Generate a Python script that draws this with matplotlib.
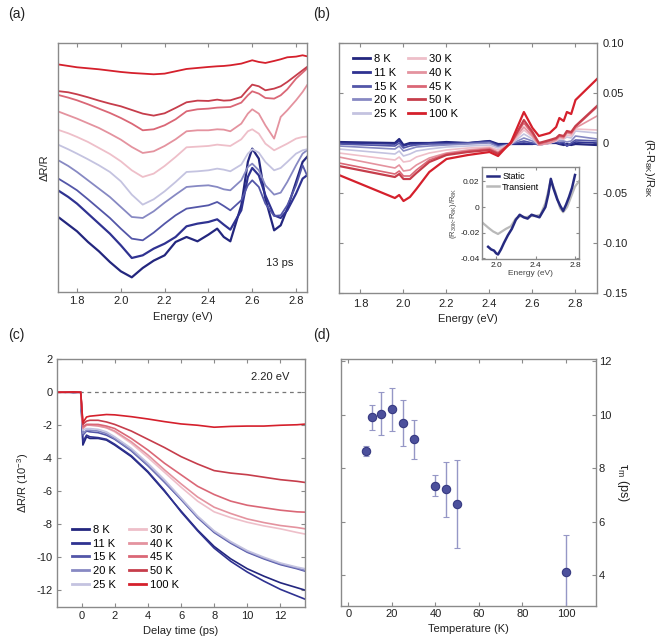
import matplotlib
matplotlib.use('Agg')
import matplotlib.pyplot as plt

plt.rcParams['font.family'] = ['Liberation Sans', 'DejaVu Sans']
plt.rcParams['mathtext.fontset'] = 'custom'
plt.rcParams['mathtext.rm'] = 'Liberation Sans'
plt.rcParams['mathtext.it'] = 'Liberation Sans:italic'

temps = ['8 K', '11 K', '15 K', '20 K', '25 K', '30 K', '40 K', '45 K', '50 K', '100 K']
colors = ['#23267e', '#2f3291', '#5356a8', '#8789c3', '#c4c3e0',
          '#eebfc9', '#e4939f', '#da6776', '#c63d4b', '#d5202c']

# ---- (a) transient spectra at 13 ps (stacked, arbitrary units)
E_a = [1.72, 1.76, 1.80, 1.85, 1.90, 1.95, 2.00, 2.05, 2.10, 2.15, 2.20, 2.25, 2.30, 2.35, 2.40,
       2.44, 2.47, 2.50, 2.55, 2.58, 2.60, 2.63, 2.66, 2.70, 2.73, 2.76, 2.80, 2.83, 2.85]
spec_8K = [-528, -548, -568, -600, -628, -660, -688, -706, -678, -656, -640, -600, -585, -598, -578,
           -560, -585, -598, -490, -360, -320, -350, -470, -565, -550, -500, -420, -360, -345]
spec_11K = [-448, -465, -485, -515, -545, -575, -610, -648, -640, -620, -605, -585, -553, -545, -540,
            -532, -548, -563, -505, -405, -378, -400, -460, -520, -528, -505, -455, -410, -400]
spec_15K = [-412, -428, -445, -472, -500, -528, -560, -590, -595, -572, -545, -520, -500, -495, -490,
            -480, -492, -505, -475, -430, -415, -435, -485, -522, -520, -490, -430, -370, -400]
spec_20K = [-357, -372, -390, -415, -440, -465, -495, -525, -528, -508, -482, -458, -435, -432, -430,
            -435, -442, -445, -415, -375, -365, -385, -430, -458, -452, -420, -370, -335, -325]
spec_25K = [-310, -322, -335, -352, -370, -390, -418, -458, -488, -472, -448, -420, -390, -388, -385,
            -380, -383, -388, -368, -335, -322, -332, -360, -385, -378, -360, -335, -325, -322]
spec_30K = [-265, -274, -285, -300, -318, -336, -358, -385, -405, -395, -372, -345, -316, -314, -312,
            -308, -310, -312, -292, -268, -262, -275, -305, -325, -315, -305, -290, -285, -284]
spec_40K = [-210, -220, -230, -244, -258, -275, -293, -315, -333, -328, -312, -292, -268, -265, -265,
            -262, -263, -268, -245, -215, -202, -215, -250, -290, -225, -205, -175, -150, -130]
spec_45K = [-160, -167, -175, -187, -200, -213, -228, -245, -265, -262, -250, -232, -208, -202, -200,
            -197, -196, -195, -182, -160, -148, -155, -168, -170, -160, -142, -110, -92, -80]
spec_50K = [-148, -151, -157, -166, -176, -185, -193, -204, -215, -221, -214, -198, -181, -176, -177,
            -173, -176, -175, -165, -142, -128, -133, -145, -140, -133, -120, -100, -85, -75]
spec_100K = [-68, -72, -76, -79, -82, -86, -90, -93, -95, -97, -95, -88, -81, -78, -75,
             -73, -72, -70, -65, -59, -55, -60, -63, -57, -52, -46, -44, -40, -43]
spectra_a = [spec_8K, spec_11K, spec_15K, spec_20K, spec_25K,
             spec_30K, spec_40K, spec_45K, spec_50K, spec_100K]

# ---- (b) static reflectance change (R-R8K)/R8K
E_b = [1.70, 1.96, 1.98, 2.00, 2.03, 2.06, 2.12, 2.20, 2.30, 2.40, 2.44, 2.50, 2.56, 2.60, 2.63,
       2.68, 2.71, 2.725, 2.745, 2.76, 2.78, 2.80, 2.90]
st_8K = [0.001, 0.000, 0.004, -0.002, 0.000, 0.000, 0.000, 0.001, 0.000, 0.002, -0.001, -0.001,
         -0.001, -0.001, 0.000, 0.000, 0.000, -0.001, -0.002, -0.001, -0.002, -0.001, -0.002]
st_11K = [0.000, -0.001, 0.002, -0.003, -0.001, -0.001, 0.000, 0.000, 0.000, 0.002, -0.002, -0.001,
          0.000, -0.001, -0.001, 0.000, 0.001, -0.001, 0.000, -0.003, -0.001, 0.001, 0.000]
st_15K = [-0.001, -0.003, 0.000, -0.005, -0.003, -0.002, -0.001, -0.001, 0.000, 0.001, -0.003, -0.001,
          0.002, 0.000, -0.002, 0.000, 0.001, 0.000, 0.001, -0.003, 0.000, 0.003, 0.002]
st_20K = [-0.003, -0.006, -0.003, -0.008, -0.006, -0.004, -0.003, -0.002, -0.001, 0.000, -0.004, -0.001,
          0.005, 0.002, -0.002, 0.000, 0.002, 0.002, 0.002, 0.001, 0.002, 0.007, 0.004]
st_25K = [-0.006, -0.011, -0.008, -0.013, -0.011, -0.008, -0.006, -0.004, -0.003, -0.002, -0.005, -0.001,
          0.009, 0.004, -0.002, 0.000, 0.002, 0.004, 0.004, 0.006, 0.005, 0.012, 0.010]
st_30K = [-0.010, -0.017, -0.014, -0.019, -0.018, -0.014, -0.010, -0.007, -0.005, -0.004, -0.007, -0.001,
          0.013, 0.006, -0.002, 0.000, 0.002, 0.005, 0.004, 0.008, 0.007, 0.014, 0.013]
st_40K = [-0.014, -0.025, -0.022, -0.028, -0.027, -0.022, -0.015, -0.010, -0.007, -0.005, -0.009, 0.000,
          0.016, 0.007, -0.002, 0.000, 0.003, 0.006, 0.005, 0.010, 0.009, 0.015, 0.027]
st_45K = [-0.020, -0.031, -0.028, -0.033, -0.033, -0.027, -0.017, -0.011, -0.008, -0.006, -0.010, 0.000,
          0.020, 0.009, -0.001, 0.002, 0.004, 0.007, 0.006, 0.011, 0.010, 0.016, 0.036]
st_50K = [-0.023, -0.034, -0.031, -0.036, -0.036, -0.030, -0.019, -0.012, -0.009, -0.007, -0.011, 0.000,
          0.023, 0.011, 0.000, 0.003, 0.005, 0.008, 0.007, 0.012, 0.011, 0.017, 0.037]
st_100K = [-0.032, -0.055, -0.052, -0.058, -0.054, -0.046, -0.029, -0.016, -0.012, -0.009, -0.013, 0.001,
           0.031, 0.015, 0.007, 0.010, 0.016, 0.025, 0.022, 0.031, 0.029, 0.043, 0.064]
static_b = [st_8K, st_11K, st_15K, st_20K, st_25K, st_30K, st_40K, st_45K, st_50K, st_100K]

# inset: 30 K vs 8 K
E_static = [1.92, 1.95, 1.98, 2.00, 2.02, 2.05, 2.08, 2.12, 2.16, 2.20, 2.24, 2.28, 2.32, 2.36,
            2.40, 2.44, 2.47, 2.50, 2.53, 2.555, 2.58, 2.62, 2.65, 2.68, 2.71, 2.74, 2.77, 2.80]
v_static = [-0.031, -0.033, -0.034, -0.036, -0.037, -0.033, -0.028, -0.022, -0.017, -0.010, -0.006,
            -0.008, -0.009, -0.006, -0.007, -0.008, -0.004, 0.000, 0.010, 0.022, 0.015, 0.006, 0.001,
            -0.003, 0.002, 0.008, 0.015, 0.025]
E_trans = [1.86, 1.92, 1.97, 2.02, 2.06, 2.10, 2.15, 2.20, 2.25, 2.30, 2.35, 2.40, 2.45, 2.50,
           2.555, 2.60, 2.65, 2.68, 2.72, 2.76, 2.80, 2.84]
v_trans = [-0.012, -0.016, -0.019, -0.021, -0.019, -0.017, -0.015, -0.009, -0.007, -0.008, -0.007,
           -0.007, -0.006, 0.003, 0.021, 0.012, -0.001, -0.004, 0.000, 0.008, 0.016, 0.020]

# ---- (c) kinetics at 2.20 eV (1e-3)
t_c = [-1.5, -1.0, -0.5, -0.05, 0.08, 0.3, 0.5, 1.0, 1.5, 2, 3, 4, 5, 6, 7, 8, 9, 10, 11, 12, 13, 13.5]
kin_8K = [0.0, 0.02, -0.02, 0.0, -3.2, -2.7, -2.8, -2.8, -2.9, -3.2, -3.9, -4.85, -6.0, -7.2, -8.35,
          -9.35, -10.1, -10.7, -11.15, -11.55, -11.85, -12.0]
kin_11K = [0.02, 0.0, 0.0, 0.02, -3.0, -2.6, -2.7, -2.75, -2.85, -3.15, -3.85, -4.8, -5.95, -7.25, -8.4,
           -9.45, -10.25, -10.9, -11.45, -11.95, -12.35, -12.55]
kin_15K = [0.0, 0.0, 0.02, 0.0, -2.6, -2.35, -2.4, -2.45, -2.6, -2.85, -3.55, -4.45, -5.45, -6.5, -7.6,
           -8.5, -9.15, -9.7, -10.1, -10.45, -10.7, -10.85]
kin_20K = [0.0, 0.02, 0.0, 0.0, -2.5, -2.3, -2.3, -2.35, -2.5, -2.8, -3.5, -4.4, -5.4, -6.45, -7.55,
           -8.45, -9.1, -9.65, -10.05, -10.4, -10.65, -10.8]
kin_25K = [0.02, 0.0, 0.0, 0.0, -2.3, -2.2, -2.2, -2.25, -2.4, -2.7, -3.4, -4.3, -5.3, -6.4, -7.5,
           -8.4, -9.05, -9.6, -10.0, -10.35, -10.6, -10.7]
kin_30K = [0.0, 0.0, 0.0, 0.02, -2.1, -1.95, -1.95, -2.0, -2.15, -2.4, -3.1, -3.95, -4.85, -5.75, -6.6,
           -7.25, -7.6, -7.88, -8.1, -8.28, -8.5, -8.6]
kin_40K = [0.0, 0.0, 0.02, 0.0, -2.2, -2.0, -2.0, -2.05, -2.15, -2.35, -3.0, -3.8, -4.7, -5.55, -6.35,
           -6.97, -7.35, -7.68, -7.9, -8.08, -8.2, -8.28]
kin_45K = [0.0, 0.02, 0.0, 0.0, -2.1, -1.95, -1.95, -1.95, -2.05, -2.2, -2.8, -3.5, -4.3, -5.0, -5.7,
           -6.2, -6.6, -6.85, -7.0, -7.15, -7.25, -7.27]
kin_50K = [0.0, 0.0, 0.0, 0.0, -1.95, -1.75, -1.7, -1.7, -1.8, -1.95, -2.35, -2.85, -3.35, -3.9, -4.35,
           -4.75, -4.9, -5.0, -5.15, -5.3, -5.4, -5.47]
kin_100K = [0.0, 0.0, 0.02, 0.0, -1.85, -1.5, -1.45, -1.4, -1.35, -1.37, -1.48, -1.62, -1.78, -1.92, -2.0,
            -2.12, -2.07, -2.05, -2.05, -2.0, -1.97, -1.93]
kinetics_c = [kin_8K, kin_11K, kin_15K, kin_20K, kin_25K, kin_30K, kin_40K, kin_45K, kin_50K, kin_100K]

# ---- (d) tau_m vs temperature
T_d = [8, 11, 15, 20, 25, 30, 40, 45, 50, 100]
tau_d = [8.65, 9.9, 10.04, 10.21, 9.68, 9.09, 7.35, 7.21, 6.66, 4.11]
tau_err = [0.19, 0.46, 0.81, 0.81, 0.86, 0.73, 0.38, 1.03, 1.64, 1.4]

GRAY = '#8a8a8a'
TXT = '#222222'


def style(ax, size=8):
    for s in ax.spines.values():
        s.set_color(GRAY)
        s.set_linewidth(1.0)
    ax.tick_params(direction='in', length=3, width=0.8, color=GRAY, labelsize=size,
                   labelcolor=TXT, top=True, right=True, pad=3)


fig = plt.figure(figsize=(6.71, 6.42), dpi=100)

# (a)
ax = fig.add_axes([0.0864, 0.5452, 0.3711, 0.3879])
for y, c in zip(spectra_a, colors):
    lw = 1.6 if c in colors[:2] else 1.3
    ax.plot(E_a, y, color=c, lw=lw)
ax.set_xlim(1.713, 2.85)
ax.set_ylim(-750, -3)
ax.set_xticks([1.8, 2.0, 2.2, 2.4, 2.6, 2.8])
ax.set_xticklabels(['1.8', '2.0', '2.2', '2.4', '2.6', '2.8'])
ax.set_yticks([])
style(ax)
ax.set_xlabel('Energy (eV)', fontsize=8, color=TXT, labelpad=4)
ax.set_ylabel('ΔR/R', fontsize=8, color=TXT, labelpad=6)
ax.text(0.89, 0.105, '13 ps', transform=ax.transAxes, fontsize=8, color=TXT, ha='center')

# (b)
ax = fig.add_axes([0.5052, 0.5436, 0.3845, 0.3894])
for y, c, lab in zip(static_b, colors, temps):
    lw = 1.6 if lab in ('50 K', '100 K', '8 K') else 1.2
    ax.plot(E_b, y, color=c, lw=lw, label=lab)
ax.set_xlim(1.7, 2.9)
ax.set_ylim(-0.15, 0.10)
ax.set_xticks([1.8, 2.0, 2.2, 2.4, 2.6, 2.8])
ax.set_xticklabels(['1.8', '2.0', '2.2', '2.4', '2.6', '2.8'])
ax.set_yticks([0.10, 0.05, 0, -0.05, -0.10, -0.15])
ax.set_yticklabels(['0.10', '0.05', '0', '-0.05', '-0.10', '-0.15'])
style(ax)
ax.tick_params(labelleft=False, labelright=True, pad=4)
ax.set_xlabel('Energy (eV)', fontsize=8, color=TXT, labelpad=4)
ax.yaxis.set_label_position('right')
ax.set_ylabel(r'(R-R$_{\mathrm{8K}}$)/R$_{\mathrm{8K}}$', fontsize=8, color=TXT,
              rotation=270, labelpad=20)
leg = ax.legend(ncol=2, loc='upper left', bbox_to_anchor=(0.055, 0.955), frameon=False,
                fontsize=8, handlelength=1.55, handletextpad=0.35, columnspacing=1.0,
                labelspacing=0.33, borderpad=0, borderaxespad=0)
for h in leg.get_lines():
    h.set_linewidth(2.0)

# inset
axi = fig.add_axes([0.7188, 0.5966, 0.1446, 0.1428])
axi.plot(E_trans, v_trans, color='#b9b9b9', lw=1.6, label='Transient')
axi.plot(E_static, v_static, color='#262a80', lw=1.8, label='Static')
axi.set_xlim(1.861, 2.844)
axi.set_ylim(-0.0405, 0.031)
axi.set_xticks([2.0, 2.4, 2.8])
axi.set_xticklabels(['2.0', '2.4', '2.8'])
axi.set_yticks([0.02, 0, -0.02, -0.04])
axi.set_yticklabels(['0.02', '0', '-0.02', '-0.04'])
style(axi, size=6)
axi.tick_params(length=2, pad=2)
axi.set_xlabel('Energy (eV)', fontsize=6, color='#444444', labelpad=1)
axi.set_ylabel(r'(R$_{\mathrm{30K}}$-R$_{\mathrm{8K}}$)/R$_{\mathrm{8K}}$', fontsize=5.5,
               color='#444444', labelpad=1)
hs, ls = axi.get_legend_handles_labels()
lg = axi.legend(hs[::-1], ls[::-1], loc='upper left', frameon=False, fontsize=6.5,
                handlelength=1.3, handletextpad=0.4, labelspacing=0.2, borderpad=0.3,
                borderaxespad=0.2)
for h in lg.get_lines():
    h.set_linewidth(1.8)

# (c)
ax = fig.add_axes([0.0845, 0.055, 0.3705, 0.3854])
ax.axhline(0, color='#777777', lw=0.9, ls=(0, (3, 3)))
for y, c, lab in zip(kinetics_c, colors, temps):
    ax.plot(t_c, y, color=c, lw=1.2, label=lab)
ax.set_xlim(-1.5, 13.5)
ax.set_ylim(-13, 2)
ax.set_xticks([0, 2, 4, 6, 8, 10, 12])
ax.set_yticks([2, 0, -2, -4, -6, -8, -10, -12])
ax.set_yticklabels(['2', '0', '-2', '-4', '-6', '-8', '-10', '-12'])
style(ax)
ax.set_xlabel('Delay time (ps)', fontsize=8, color=TXT, labelpad=4)
ax.set_ylabel(r'ΔR/R (10$^{-3}$)', fontsize=8, color=TXT, labelpad=4)
ax.text(0.86, 0.915, '2.20 eV', transform=ax.transAxes, fontsize=8, color=TXT, ha='center')
leg = ax.legend(ncol=2, loc='upper left', bbox_to_anchor=(0.06, 0.33), frameon=False,
                fontsize=8, handlelength=1.55, handletextpad=0.35, columnspacing=1.2,
                labelspacing=0.33, borderpad=0, borderaxespad=0)
for h in leg.get_lines():
    h.set_linewidth(2.0)

# (d)
ax = fig.add_axes([0.5082, 0.0561, 0.3800, 0.3852])
ax.errorbar(T_d, tau_d, yerr=tau_err, fmt='o', ms=6, mfc='#4c509c', mec='#373a82', mew=0.8,
            ecolor='#9597c6', elinewidth=1.0, capsize=2.5, capthick=1.0)
ax.set_xlim(-3.4, 113.8)
ax.set_ylim(2.84, 12.1)
ax.set_xticks([0, 20, 40, 60, 80, 100])
ax.set_yticks([4, 6, 8, 10, 12])
style(ax)
ax.tick_params(labelleft=False, labelright=True, pad=2)
ax.set_xlabel('Temperature (K)', fontsize=8, color=TXT, labelpad=4)
ax.yaxis.set_label_position('right')
ax.set_ylabel(r'τ$_{\mathrm{m}}$ (ps)', fontsize=9, color=TXT, rotation=270, labelpad=14)

# panel letters
for x, y, s in [(0.012, 0.972, '(a)'), (0.467, 0.972, '(b)'),
                (0.012, 0.472, '(c)'), (0.467, 0.472, '(d)')]:
    fig.text(x, y, s, fontsize=10, color=TXT)

fig.savefig('out.png', dpi=100, facecolor='white')
